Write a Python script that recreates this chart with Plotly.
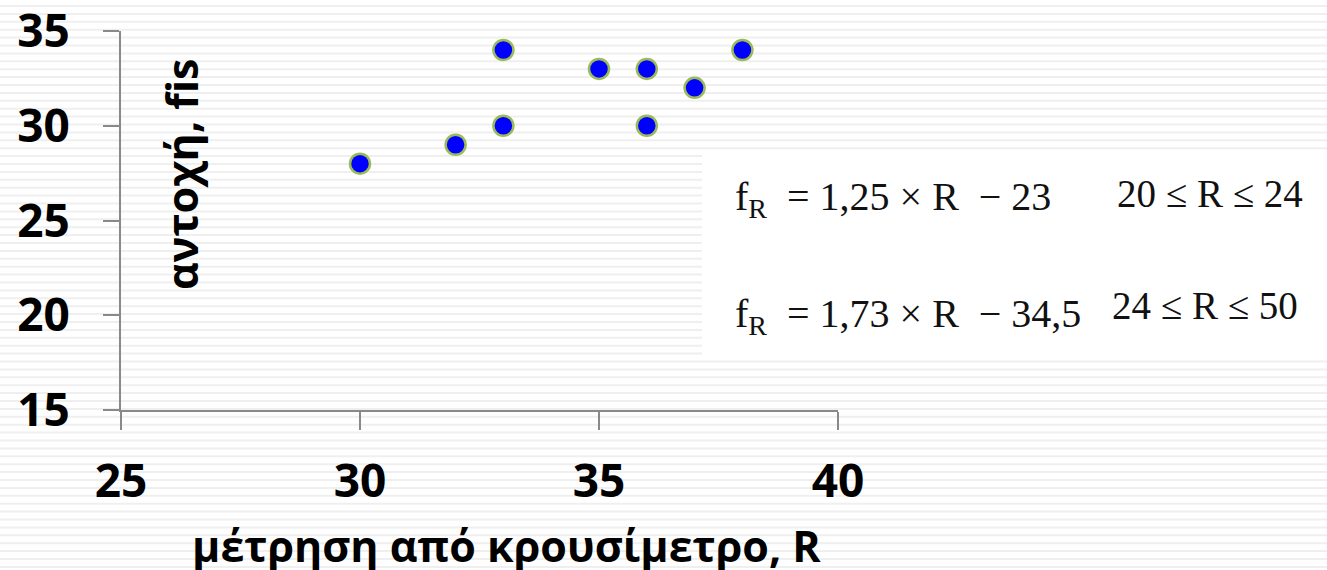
import plotly.graph_objects as go

# Data
R_values = [30, 32, 33, 33, 35, 36, 36, 37, 38]
fis_values = [28, 29, 30, 34, 33, 33, 30, 32, 34]
x_ticks = [25, 30, 35, 40]
y_ticks = [15, 20, 25, 30, 35]
x_title = "μέτρηση από κρουσίμετρο, R"
y_title = "αντοχή, fis"
eq1 = "f<sub>R</sub>  = 1,25 × R  − 23"
rng1 = "20 ≤ R ≤ 24"
eq2 = "f<sub>R</sub>  = 1,73 × R  − 34,5"
rng2 = "24 ≤ R ≤ 50"

W, H = 1327, 570
L, R_, T, B = 121, 489, 31, 160
PW, PH = W - L - R_, H - T - B

def px(x):
    return (x - L) / PW

def py(y):
    return (H - B - y) / PH

fig = go.Figure()
fig.add_trace(go.Scatter(
    x=R_values, y=fis_values, mode="markers",
    marker=dict(size=20, color="#0000ff", line=dict(color="#9bbb59", width=2.5)),
    showlegend=False, cliponaxis=False,
))

shapes = []
y = 6.0
while y < H:
    shapes.append(dict(type="line", xref="paper", yref="paper", layer="below",
                       x0=px(0), x1=px(W), y0=py(y), y1=py(y),
                       line=dict(color="#efefef", width=2)))
    y += 7.9
shapes.append(dict(type="rect", xref="paper", yref="paper", layer="below",
                   x0=px(702), x1=px(W + 5), y0=py(153), y1=py(360),
                   fillcolor="white", line=dict(width=0)))

font_main = "Open Sans"
serif_eq = dict(family="Liberation Serif", size=40, color="#111")
serif_rng = dict(family="Liberation Serif", size=39, color="#111")
annotations = [
    dict(text=f"<b>{x_title}</b>", xref="paper", yref="paper", x=px(506), y=py(545),
         showarrow=False, xanchor="center", yanchor="middle",
         font=dict(family=font_main, size=43, color="black")),
    dict(text=f"<b>{y_title}</b>", xref="paper", yref="paper", x=px(181), y=py(175),
         showarrow=False, xanchor="center", yanchor="middle", textangle=-90,
         font=dict(family=font_main, size=43, color="black")),
    dict(text=eq1, xref="paper", yref="paper", x=px(733), y=py(199),
         showarrow=False, xanchor="left", yanchor="middle", font=serif_eq),
    dict(text=rng1, xref="paper", yref="paper", x=px(1115), y=py(193),
         showarrow=False, xanchor="left", yanchor="middle", font=serif_rng),
    dict(text=eq2, xref="paper", yref="paper", x=px(733), y=py(316),
         showarrow=False, xanchor="left", yanchor="middle", font=serif_eq),
    dict(text=rng2, xref="paper", yref="paper", x=px(1110), y=py(305),
         showarrow=False, xanchor="left", yanchor="middle", font=serif_rng),
]

axis_common = dict(showgrid=False, zeroline=False, showline=True, automargin=False,
                   linecolor="#898989", linewidth=2, ticks="outside",
                   tickcolor="#898989", tickwidth=2, ticklabeloverflow="allow",
                   tickfont=dict(family=font_main, size=46, color="black", weight="bold"))

fig.update_layout(
    width=W, height=H, autosize=False,
    margin=dict(l=L, r=R_, t=T, b=B, pad=0, autoexpand=False),
    paper_bgcolor="white", plot_bgcolor="rgba(0,0,0,0)",
    shapes=shapes, annotations=annotations,
    xaxis=dict(range=[25, 40], tickvals=x_ticks, ticklen=18,
               ticklabelstandoff=12, **axis_common),
    yaxis=dict(range=[15, 35], tickvals=y_ticks, ticklen=16,
               ticklabelstandoff=24, **axis_common),
)

fig.write_html("out.html", config=dict(displayModeBar=False),
               post_script="document.body.style.margin='0';document.body.style.overflow='hidden';")
